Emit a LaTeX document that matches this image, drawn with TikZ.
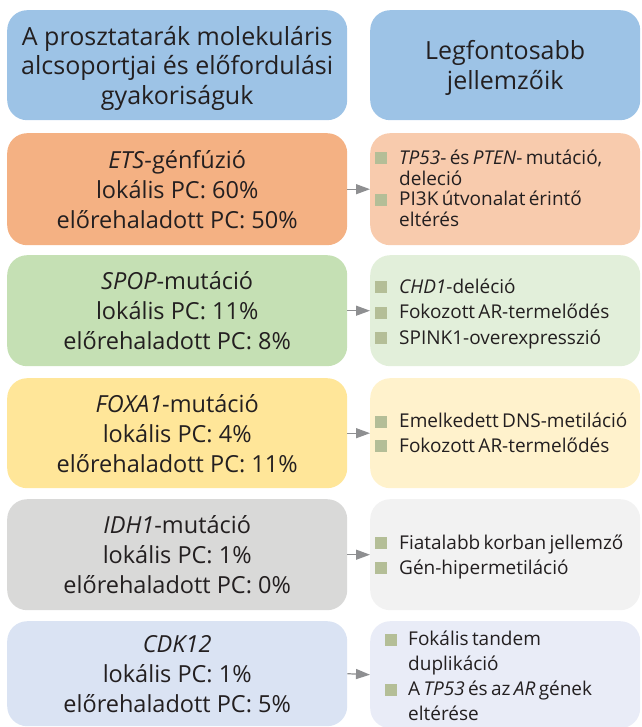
\documentclass[tikz,border=0pt]{standalone}
\usepackage{fontspec}
\setmainfont{Open Sans}
\usetikzlibrary{arrows.meta}
\definecolor{txt}{HTML}{231F20}
\definecolor{hdr}{HTML}{9DC3E6}
\definecolor{orL}{HTML}{F4B183}
\definecolor{orR}{HTML}{F8CBAD}
\definecolor{grL}{HTML}{C5E0B4}
\definecolor{grR}{HTML}{E2EFDA}
\definecolor{yeL}{HTML}{FFE699}
\definecolor{yeR}{HTML}{FFF2CC}
\definecolor{gyL}{HTML}{D9D9D8}
\definecolor{gyR}{HTML}{F2F2F2}
\definecolor{blL}{HTML}{DAE3F3}
\definecolor{blR}{HTML}{E9ECF7}
\definecolor{bulc}{HTML}{B4BE97}
\definecolor{arr}{HTML}{8E8F91}
\newcommand{\mybul}{\textcolor{bulc}{\rule{12pt}{12pt}}}
% shift content down by half of #1 inside a vertically centred node
\newcommand{\pushdown}[2]{\raisebox{0pt}[\dimexpr\height+#1\relax]{#2}}
\tikzset{
  leftbox/.style={anchor=north west, rounded corners=20pt, inner sep=0pt,
    minimum width=340pt, text=txt, align=center,
    font=\fontsize{23.5}{30}\selectfont},
  hdrbox/.style={leftbox, fill=hdr, font=\fontsize{25}{29.5}\selectfont},
  rightbox/.style={anchor=north west, rounded corners=20pt, inner ysep=0pt,
    inner xsep=5pt, minimum width=270pt, text width=260pt, text=txt, align=left},
  link/.style={draw=arr, line width=1.2pt, -{Triangle[length=14pt,width=10pt]}}
}
\begin{document}
\begin{tikzpicture}[x=1pt,y=-1pt]
\useasboundingbox (0,0) rectangle (641,727);
% headers
\node[hdrbox, minimum height=110pt] (h1) at (7,10)
  {\pushdown{7pt}{\begin{tabular}{@{}c@{}}A prosztatarák molekuláris\\alcsoportjai és előfordulási\\gyakoriságuk\end{tabular}}};
\node[hdrbox, anchor=north west, minimum width=270pt, minimum height=110pt] (h2) at (370,10)
  {\pushdown{7pt}{\begin{tabular}{@{}c@{}}Legfontosabb\\jellemzőik\end{tabular}}};
% left boxes
\node[leftbox, fill=orL, minimum height=112pt] (l1) at (7,133)
  {\textit{ETS}-génfúzió\\lokális PC: 60\%\\előrehaladott PC: 50\%};
\node[leftbox, fill=grL, minimum height=111pt] (l2) at (7,255)
  {\textit{SPOP}-mutáció\\lokális PC: 11\%\\előrehaladott PC: 8\%};
\node[leftbox, fill=yeL, minimum height=110pt] (l3) at (7,378)
  {\textit{FOXA1}-mutáció\\lokális PC: 4\%\\előrehaladott PC: 11\%};
\node[leftbox, fill=gyL, minimum height=111pt] (l4) at (7,499)
  {\textit{IDH1}-mutáció\\lokális PC: 1\%\\előrehaladott PC: 0\%};
\node[leftbox, fill=blL, minimum height=105pt] (l5) at (7,621)
  {\textit{CDK12}\\lokális PC: 1\%\\előrehaladott PC: 5\%};
% right boxes
\node[rightbox, fill=orR, minimum height=112pt] (r1) at (370,133)
  {\fontsize{19}{20.3}\selectfont\pushdown{4pt}{\begin{tabular}{@{}l@{\hspace{12pt}}l@{}}
   \mybul & \textit{TP53}- és \textit{PTEN}- mutáció,\\
          & deleció\\
   \mybul & PI3K útvonalat érintő\\
          & eltérés
   \end{tabular}}};
\node[rightbox, fill=grR, minimum height=111pt] (r2) at (370,255)
  {\fontsize{19}{25.5}\selectfont\pushdown{6pt}{\begin{tabular}{@{}l@{\hspace{12pt}}l@{}}
   \mybul & \textit{CHD1}-deléció\\
   \mybul & Fokozott AR-termelődés\\
   \mybul & SPINK1-overexpresszió
   \end{tabular}}};
\node[rightbox, fill=yeR, minimum height=110pt] (r3) at (370,378)
  {\fontsize{19}{24.5}\selectfont\pushdown{4pt}{\begin{tabular}{@{}l@{\hspace{12pt}}l@{}}
   \mybul & Emelkedett DNS-metiláció\\
   \mybul & Fokozott AR-termelődés
   \end{tabular}}};
\node[rightbox, fill=gyR, minimum height=111pt] (r4) at (370,499)
  {\fontsize{19}{25}\selectfont\pushdown{4pt}{\begin{tabular}{@{}l@{\hspace{12pt}}l@{}}
   \mybul & Fiatalabb korban jellemző\\
   \mybul & Gén-hipermetiláció
   \end{tabular}}};
\node[rightbox, fill=blR, minimum height=105pt, inner xsep=15pt, text width=240pt] (r5) at (370,621)
  {\fontsize{19}{25}\selectfont\pushdown{7pt}{\begin{tabular}{@{}l@{\hspace{11pt}}l@{}}
   \mybul & Fokális tandem\\
          & duplikáció\\
   \mybul & A \textit{TP53} és az \textit{AR} gének\\
          & eltérése
   \end{tabular}}};
% connectors
\draw[link] (l1.east) -- (r1.west);
\draw[link] (l2.east) -- (r2.west);
\draw[link] (l3.east) -- (r3.west);
\draw[link] (l4.east) -- (r4.west);
\draw[link] (l5.east) -- (r5.west);
\end{tikzpicture}
\end{document}
